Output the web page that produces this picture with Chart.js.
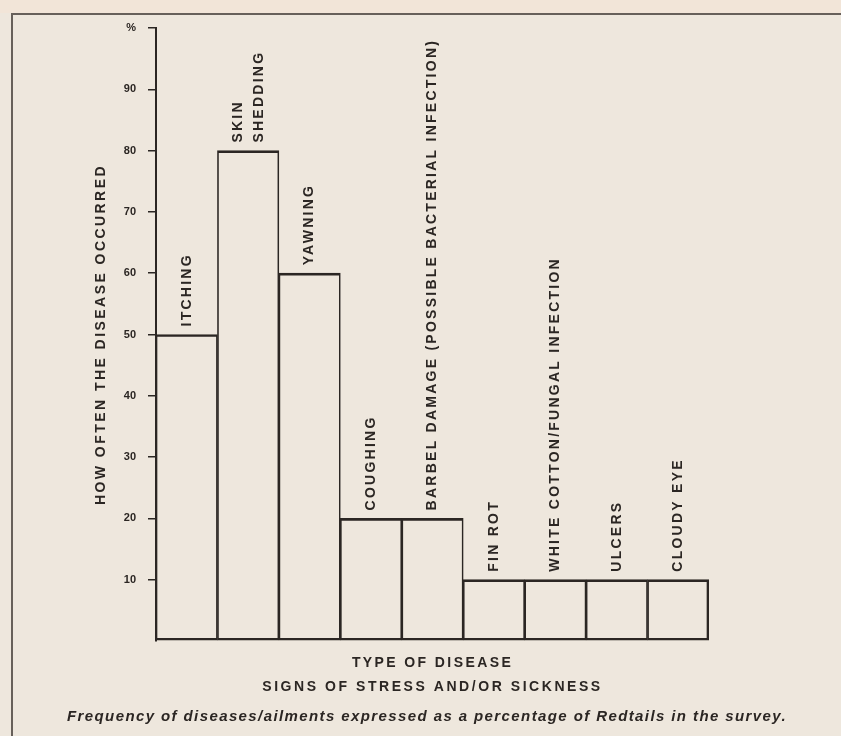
<!DOCTYPE html>
<html>
<head>
<meta charset="utf-8">
<script src="https://cdn.jsdelivr.net/npm/chart.js@4.4.1/dist/chart.umd.min.js"></script>
<style>
  html, body { margin: 0; padding: 0; background: #eee7dd; }
  #wrap { width: 841px; height: 736px; }
</style>
</head>
<body>
<div id="wrap"><canvas id="chart" width="841" height="736"></canvas></div>
<script>
// categories as printed above each bar (one entry per text line)
const diseaseLabels = [
    ['ITCHING'],
    ['SKIN', 'SHEDDING'],
    ['YAWNING'],
    ['COUGHING'],
    ['BARBEL DAMAGE (POSSIBLE BACTERIAL INFECTION)'],
    ['FIN ROT'],
    ['WHITE COTTON/FUNGAL INFECTION'],
    ['ULCERS'],
    ['CLOUDY EYE']
];
// % of Redtails in the survey
const percentages = [50, 80, 60, 20, 20, 10, 10, 10, 10];
const yMax = 100;
const yStep = 10;
const yTopLabel = '%';

const yTitle = 'HOW OFTEN THE DISEASE OCCURRED';
const xTitles = ['TYPE OF DISEASE', 'SIGNS OF STRESS AND/OR SICKNESS'];
const caption = 'Frequency of diseases/ailments expressed as a percentage of Redtails in the survey.';

const ink = '#2b2623';
const paper = '#eee7dd';
const fontFamily = '"Liberation Sans", Arial, sans-serif';

function spacedText(ctx, text, x, y, spacing) {
    ctx.letterSpacing = spacing + 'px';
    ctx.fillText(text, x, y);
    ctx.letterSpacing = '0px';
}

const paperPlugin = {
    id: 'paper',
    beforeDraw(chart) {
        const { ctx, width, height } = chart;
        ctx.save();
        ctx.fillStyle = paper;
        ctx.fillRect(0, 0, width, height);
        ctx.fillStyle = '#f2e5d8';
        ctx.fillRect(0, 0, width, 13);
        // scanned page frame
        ctx.strokeStyle = '#67605a';
        ctx.lineWidth = 2;
        ctx.beginPath();
        ctx.moveTo(12, height);
        ctx.lineTo(12, 14);
        ctx.lineTo(width, 14);
        ctx.stroke();
        ctx.restore();
    }
};

const textPlugin = {
    id: 'texts',
    afterDatasetsDraw(chart) {
        const { ctx, chartArea } = chart;
        const meta = chart.getDatasetMeta(0);
        ctx.save();
        ctx.fillStyle = ink;

        // rotated labels above the bars
        ctx.font = 'bold 14px ' + fontFamily;
        ctx.textAlign = 'left';
        ctx.textBaseline = 'middle';
        meta.data.forEach((bar, i) => {
            const lines = diseaseLabels[i];
            ctx.save();
            ctx.translate(bar.x, bar.y - 8);
            ctx.rotate(-Math.PI / 2);
            lines.forEach((line, j) => {
                const off = (j - (lines.length - 1) / 2) * 21;
                spacedText(ctx, line, 0, off, 2.25);
            });
            ctx.restore();
        });

        // y axis title
        ctx.save();
        ctx.font = 'bold 14px ' + fontFamily;
        ctx.textAlign = 'center';
        ctx.translate(101, (chartArea.top + chartArea.bottom) / 2);
        ctx.rotate(-Math.PI / 2);
        spacedText(ctx, yTitle, 0, 0, 2.45);
        ctx.restore();

        // x titles
        ctx.textAlign = 'center';
        const cx = (chartArea.left + chartArea.right) / 2;
        ctx.font = 'bold 14px ' + fontFamily;
        spacedText(ctx, xTitles[0], cx, 663, 2.4);
        spacedText(ctx, xTitles[1], cx, 687, 2.55);

        // caption
        ctx.font = 'italic bold 15px ' + fontFamily;
        spacedText(ctx, caption, 427, 717, 1.4);
        ctx.restore();
    }
};

new Chart(document.getElementById('chart'), {
    type: 'bar',
    data: {
        labels: diseaseLabels.map(l => l.join(' ')),
        datasets: [{
            data: percentages,
            backgroundColor: 'rgba(0,0,0,0)',
            borderColor: ink,
            borderSkipped: false,
            borderWidth: ctx => ({
                top: 2,
                bottom: 2,
                left: 1,
                right: ctx.dataIndex === percentages.length - 1 ? 2 : 1
            }),
            barPercentage: 1,
            categoryPercentage: 1
        }]
    },
    options: {
        responsive: false,
        animation: false,
        layout: { padding: { left: 0, right: 132, top: 28, bottom: 0 } },
        plugins: {
            legend: { display: false },
            tooltip: { enabled: false }
        },
        scales: {
            x: {
                ticks: { display: false },
                grid: { display: false },
                border: { display: false },
                afterFit: scale => { scale.height = 95; }
            },
            y: {
                min: 0,
                max: yMax,
                ticks: {
                    stepSize: yStep,
                    padding: 12,
                    color: ink,
                    font: { family: fontFamily, size: 11, weight: 'bold' },
                    callback: v => v === 0 ? '' : (v === yMax ? yTopLabel : v)
                },
                grid: {
                    drawOnChartArea: false,
                    tickLength: 8,
                    lineWidth: 1.5,
                    color: c => (c.tick && c.tick.value === 0) ? 'rgba(0,0,0,0)' : ink
                },
                border: { display: true, color: ink, width: 2 },
                afterFit: scale => { scale.width = 156; }
            }
        }
    },
    plugins: [paperPlugin, textPlugin]
});
</script>
</body>
</html>
